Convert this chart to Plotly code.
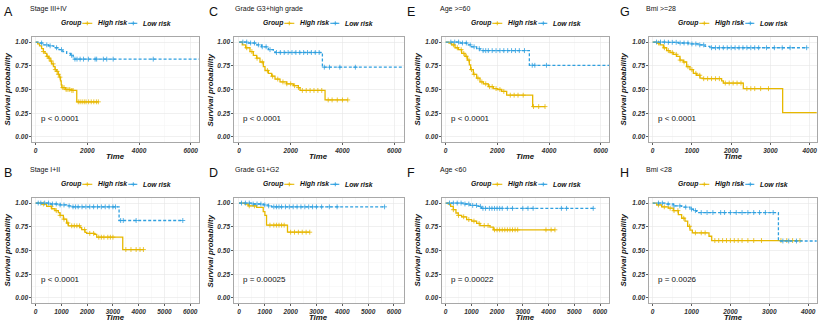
import plotly.graph_objects as go

W, H = 819, 325
HIGH_COLOR = "#E7B800"
LOW_COLOR = "#2E9FDF"
FONT = "Liberation Sans, Arial, sans-serif"

panel_letters = ["A", "B", "C", "D", "E", "F", "G", "H"]
panel_titles = ["Stage III+IV", "Stage I+II", "Grade G3+high grade", "Grade G1+G2",
                "Age >=60", "Age <60", "Bmi >=28", "Bmi <28"]
pvals = ["p < 0.0001", "p < 0.0001", "p < 0.0001", "p = 0.00025",
         "p < 0.0001", "p = 0.00022", "p < 0.0001", "p = 0.0026"]
group_labels = ["High risk", "Low risk"]
legend_title = "Group"
x_title = "Time"
y_title = "Survival probability"
y_ticks = [0, 0.25, 0.5, 0.75, 1.0]
x_ticks_wide = [0, 2000, 4000, 6000]
x_ticks_fine = [0, 1000, 2000, 3000, 4000, 5000, 6000]
x_ticks_short = [0, 1000, 2000, 3000, 4000]

# ---------------- Kaplan-Meier step data (time, survival) ----------------
A_high_t = [0, 80, 150, 230, 300, 360, 430, 500, 560, 620, 690, 750, 810, 870, 920, 960, 990, 1010, 1150, 1400, 1590, 2425]
A_high_s = [1, .98, .96, .93, .90, .88, .85, .83, .80, .77, .74, .71, .69, .66, .63, .59, .55, .52, .50, .49, .37, .37]
A_high_c = [300, 450, 520, 600, 680, 760, 830, 880, 940, 1050, 1100, 1180, 1250, 1320, 1400, 1450, 1650, 1720,
            1800, 1880, 1950, 2050, 2150, 2250, 2350, 2425]
A_low_t = [0, 150, 300, 500, 700, 900, 1050, 1200, 1350, 1450, 6400]
A_low_s = [1, .99, .97, .96, .94, .92, .90, .88, .86, .82, .82]
A_low_c = [230, 430, 560, 810, 1000, 1390, 1520, 1600, 1720, 1850, 2040, 2300, 2360, 2620, 2750, 3000, 4550]

B_high_t = [0, 233, 427, 622, 751, 881, 945, 1075, 1204, 1269, 1722, 1787, 1916, 1981, 2279, 2370, 3380, 4183]
B_high_s = [1, .99, .965, .94, .92, .90, .87, .83, .79, .76, .74, .72, .69, .68, .67, .64, .51, .51]
B_high_c = [300, 600, 800, 950, 1100, 1250, 1400, 1500, 1600, 1700, 1900, 2100, 2250, 2450, 2550, 2650, 2800,
            2900, 3000, 3500, 3700, 3900, 4050, 4183]
B_low_t = [0, 557, 945, 1204, 1400, 3238, 5711]
B_low_s = [1, .99, .98, .97, .96, .816, .816]
B_low_c = [100, 200, 350, 500, 650, 800, 950, 1100, 1300, 1450, 1550, 1650, 1800, 1950, 2100, 2250, 2400, 2550,
           2700, 2850, 3000, 3100, 3300, 3400, 3900, 5711]

C_high_t = [0, 129, 258, 426, 555, 684, 813, 942, 1006, 1135, 1264, 1393, 1587, 1845, 2103, 2296, 2361, 3328, 4205]
C_high_s = [1, .97, .94, .90, .86, .83, .79, .74, .70, .67, .64, .61, .58, .56, .54, .52, .49, .39, .39]
C_high_c = [300, 500, 700, 900, 1100, 1300, 1500, 1700, 1850, 2000, 2150, 2300, 2450, 2600, 2750, 2900, 3050,
            3200, 3450, 3600, 3800, 4000, 4205]
C_low_t = [0, 361, 619, 877, 1135, 1329, 1393, 3225, 6450]
C_low_s = [1, .99, .97, .95, .92, .90, .89, .735, .735]
C_low_c = [150, 300, 450, 600, 750, 900, 1050, 1200, 1450, 1600, 1750, 1900, 2050, 2200, 2350, 2500, 2650, 2800,
           2950, 3100, 3300, 3500, 3900, 4500]

D_high_t = [0, 232, 360, 682, 940, 1004, 1068, 1879, 2741]
D_high_s = [1, .99, .97, .955, .91, .87, .767, .693, .693]
D_high_c = [400, 600, 1200, 1350, 1450, 1550, 1650, 1750, 2000, 2150, 2300, 2450, 2600, 2741]
D_low_t = [0, 489, 940, 1133, 1261, 5637]
D_low_s = [1, .99, .98, .97, .96, .96]
D_low_c = [100, 250, 400, 550, 700, 850, 1000, 1150, 1350, 1450, 1550, 1650, 1800, 1950, 2100, 2250, 2400, 2550,
           2700, 2850, 3000, 3200, 3500, 3800, 5637]

E_high_t = [0, 129, 232, 361, 490, 619, 748, 839, 916, 968, 1071, 1200, 1329, 1458, 1651, 1845, 2000, 2167, 2361, 3367, 3844]
E_high_s = [1, .99, .97, .94, .92, .88, .85, .81, .76, .71, .66, .62, .58, .56, .53, .51, .50, .48, .44, .32, .32]
E_high_c = [300, 450, 600, 700, 800, 900, 1000, 1100, 1250, 1400, 1550, 1700, 1800, 1950, 2100, 2250, 2500,
            2650, 2800, 3000, 3400, 3600, 3844]
E_low_t = [0, 555, 813, 1006, 1200, 1329, 3238, 6400]
E_low_s = [1, .99, .97, .95, .93, .91, .755, .755]
E_low_c = [200, 350, 500, 650, 800, 950, 1100, 1300, 1450, 1550, 1650, 1800, 1950, 2100, 2250, 2400, 2550, 2700,
           2850, 3050, 3350, 3450, 3900]

F_high_t = [0, 104, 194, 298, 401, 492, 622, 816, 1010, 1204, 1334, 1722, 1852, 4248]
F_high_s = [1, .99, .965, .93, .895, .87, .855, .826, .81, .785, .763, .746, .718, .718]
F_high_c = [300, 500, 700, 900, 1100, 1300, 1500, 1650, 1900, 2000, 2100, 2200, 2300, 2400, 2500, 2600, 2700,
            2800, 3900, 4100, 4248]
F_low_t = [0, 686, 945, 1204, 1398, 5737]
F_low_s = [1, .99, .975, .965, .944, .944]
F_low_c = [150, 300, 450, 600, 750, 900, 1050, 1200, 1350, 1450, 1550, 1700, 1800, 1900, 2000, 2100, 2200, 2400,
           2600, 3000, 3200, 3400, 4500, 4700, 5737]

G_high_t = [0, 102, 187, 272, 357, 441, 526, 611, 696, 781, 866, 951, 1036, 1121, 1206, 1290, 1757, 1800, 2309, 3311, 4300]
G_high_s = [1, .99, .97, .94, .91, .89, .87, .85, .81, .79, .74, .71, .67, .65, .62, .614, .59, .568, .509, .256, .256]
G_high_c = [150, 300, 400, 500, 600, 700, 800, 900, 1000, 1100, 1200, 1300, 1400, 1500, 1600, 1700, 1850, 1950,
            2050, 2150, 2250, 2400, 2500, 2600, 2750, 2950]
G_low_t = [0, 399, 654, 908, 1163, 1333, 1460, 3922]
G_low_s = [1, .997, .99, .98, .97, .954, .94, .94]
G_low_c = [100, 200, 300, 400, 500, 600, 700, 800, 900, 1000, 1100, 1200, 1300, 1500, 1600, 1700, 1800, 1900,
           2000, 2100, 2200, 2300, 2400, 2500, 2600, 2700, 2900, 3100, 3300, 3500, 3922]

H_high_t = [0, 103, 232, 403, 532, 661, 746, 832, 901, 961, 1021, 1450, 1519, 3790]
H_high_s = [1, .98, .96, .946, .92, .877, .84, .81, .755, .714, .686, .65, .605, .605]
H_high_c = [150, 300, 450, 550, 650, 800, 950, 1100, 1250, 1350, 1600, 1700, 1800, 1900, 2000, 2100, 2200, 2300,
            2450, 2600, 2800, 3300, 3450, 3600, 3790]
H_low_t = [0, 317, 532, 746, 961, 1047, 1133, 3235, 4300]
H_low_s = [1, .99, .97, .957, .936, .92, .90, .60, .60]
H_low_c = [150, 250, 400, 550, 700, 850, 1000, 1100, 1250, 1400, 1550, 1750, 1850, 2000, 2150, 2300, 2450, 2600,
           2750, 2900, 3100, 3350, 3500, 3700]

curves = {
    "A": (A_high_t, A_high_s, A_high_c, A_low_t, A_low_s, A_low_c),
    "B": (B_high_t, B_high_s, B_high_c, B_low_t, B_low_s, B_low_c),
    "C": (C_high_t, C_high_s, C_high_c, C_low_t, C_low_s, C_low_c),
    "D": (D_high_t, D_high_s, D_high_c, D_low_t, D_low_s, D_low_c),
    "E": (E_high_t, E_high_s, E_high_c, E_low_t, E_low_s, E_low_c),
    "F": (F_high_t, F_high_s, F_high_c, F_low_t, F_low_s, F_low_c),
    "G": (G_high_t, G_high_s, G_high_c, G_low_t, G_low_s, G_low_c),
    "H": (H_high_t, H_high_s, H_high_c, H_low_t, H_low_s, H_low_c),
}

# ---------------- layout geometry (pixels) ----------------
col_x = [(32.3, 199.0), (234.3, 403.5), (442.3, 609.0), (649.3, 816.7)]
row_y = [(37.3, 141.7), (198.3, 302.7)]
letter_x = [2, 207, 405, 618]
title_x = [28, 233, 438, 644]
ytitle_x = [7, 210, 417, 623]
panel_pos = {"A": (0, 0), "B": (0, 1), "C": (1, 0), "D": (1, 1),
             "E": (2, 0), "F": (2, 1), "G": (3, 0), "H": (3, 1)}
x_ranges = {"A": [-130, 6320], "B": [-130, 6340], "C": [-180, 6360], "D": [-180, 6370],
            "E": [-130, 6320], "F": [-130, 6350], "G": [-85, 4178], "H": [-86, 4220]}
x_ticks = {"A": x_ticks_wide, "B": x_ticks_fine, "C": x_ticks_wide, "D": x_ticks_fine,
           "E": x_ticks_wide, "F": x_ticks_fine, "G": x_ticks_short, "H": x_ticks_short}


def px(x):
    return x / W


def py(y):
    return 1 - y / H


def surv_at(ts, ss, t):
    s = ss[0]
    for ti, si in zip(ts, ss):
        if ti <= t:
            s = si
        else:
            break
    return s


fig = go.Figure()
annotations = []
shapes = []
layout_axes = {}

bi = dict(weight="bold", style="italic")

for i, key in enumerate(panel_letters):
    n = i + 1
    xs = "" if n == 1 else str(n)
    col, row = panel_pos[key]
    x0, x1 = col_x[col]
    y0, y1 = row_y[row]
    ht, hs, hc, lt, ls, lc = curves[key]

    for (t, s, c, color, dash, name) in [(ht, hs, hc, HIGH_COLOR, "solid", group_labels[0]),
                                         (lt, ls, lc, LOW_COLOR, "3px,2px", group_labels[1])]:
        fig.add_trace(go.Scatter(x=t, y=s, mode="lines", line=dict(color=color, width=1.3, dash=dash, shape="hv"),
                                 xaxis="x" + xs, yaxis="y" + xs, showlegend=False, name=name, hoverinfo="skip"))
        fig.add_trace(go.Scatter(x=c, y=[surv_at(t, s, ci) for ci in c], mode="markers",
                                 marker=dict(symbol="cross-thin", size=3.5, line=dict(color=color, width=0.8)),
                                 xaxis="x" + xs, yaxis="y" + xs, showlegend=False, hoverinfo="skip"))

    step = x_ticks[key][1] - x_ticks[key][0]
    layout_axes["xaxis" + xs] = dict(
        domain=[px(x0), px(x1)], range=x_ranges[key], anchor="y" + xs,
        tickmode="array", tickvals=x_ticks[key], ticks="outside", ticklen=2, tickwidth=0.8, tickcolor="#333333",
        showline=True, mirror=True, linecolor="#A8A8A8", linewidth=1,
        showgrid=True, gridcolor="#E6E6E6", gridwidth=0.6, zeroline=False,
        minor=dict(tickmode="linear", tick0=step / 2, dtick=step, showgrid=True, gridcolor="#F3F3F3", gridwidth=0.5),
        tickfont=dict(family=FONT, size=6.5, color="#333333", **bi), fixedrange=True)
    layout_axes["yaxis" + xs] = dict(
        domain=[py(y1), py(y0)], range=[-0.05, 1.05], anchor="x" + xs,
        tickmode="array", tickvals=y_ticks, ticktext=["%.2f" % v for v in y_ticks],
        ticks="outside", ticklen=2, tickwidth=0.8, tickcolor="#333333",
        showline=True, mirror=True, linecolor="#A8A8A8", linewidth=1,
        showgrid=True, gridcolor="#E6E6E6", gridwidth=0.6, zeroline=False,
        minor=dict(tickmode="linear", tick0=0.125, dtick=0.25, showgrid=True, gridcolor="#F3F3F3", gridwidth=0.5),
        tickfont=dict(family=FONT, size=6.5, color="#333333", **bi), fixedrange=True)

    off = 0 if row == 0 else 161
    # panel letter
    annotations.append(dict(text=key, x=px(letter_x[col]), y=py(12 + off), xref="paper", yref="paper",
                            xanchor="left", yanchor="middle", showarrow=False,
                            font=dict(family=FONT, size=12.5, color="#111111")))
    # subtitle
    annotations.append(dict(text=panel_titles[i], x=px(title_x[col]), y=py(8.5 + off), xref="paper", yref="paper",
                            xanchor="left", yanchor="middle", showarrow=False,
                            font=dict(family=FONT, size=7, color="#111111")))
    # legend
    ly = y0 - 14
    annotations.append(dict(text=legend_title, x=px(x0 + 27), y=py(ly), xref="paper", yref="paper",
                            xanchor="left", yanchor="middle", showarrow=False,
                            font=dict(family=FONT, size=6.8, color="#111111", **bi)))
    for (a, b, tx, color, dash, lab) in [(50, 60, 64, HIGH_COLOR, "solid", group_labels[0]),
                                         (96, 106, 109, LOW_COLOR, "dash", group_labels[1])]:
        shapes.append(dict(type="line", xref="paper", yref="paper", x0=px(x0 + a), x1=px(x0 + b),
                           y0=py(ly), y1=py(ly), line=dict(color=color, width=1.1, dash=dash)))
        shapes.append(dict(type="line", xref="paper", yref="paper", x0=px(x0 + (a + b) / 2 - 2),
                           x1=px(x0 + (a + b) / 2 + 2), y0=py(ly), y1=py(ly), line=dict(color=color, width=0.9)))
        shapes.append(dict(type="line", xref="paper", yref="paper", x0=px(x0 + (a + b) / 2),
                           x1=px(x0 + (a + b) / 2), y0=py(ly - 2), y1=py(ly + 2), line=dict(color=color, width=0.9)))
        annotations.append(dict(text=lab, x=px(x0 + tx), y=py(ly), xref="paper", yref="paper",
                                xanchor="left", yanchor="middle", showarrow=False,
                                font=dict(family=FONT, size=6.8, color="#111111", **bi)))
    # y title
    annotations.append(dict(text=y_title, x=px(ytitle_x[col]), y=py((y0 + y1) / 2), xref="paper", yref="paper",
                            xanchor="center", yanchor="middle", textangle=-90, showarrow=False,
                            font=dict(family=FONT, size=7.8, color="#111111", **bi)))
    # x title
    annotations.append(dict(text=x_title, x=px((x0 + x1) / 2), y=py(y1 + 14.5), xref="paper", yref="paper",
                            xanchor="center", yanchor="middle", showarrow=False,
                            font=dict(family=FONT, size=7.8, color="#111111", **bi)))
    # p value
    annotations.append(dict(text=pvals[i], x=px(x0 + 7), y=py(y1 - 23.5), xref="paper", yref="paper",
                            xanchor="left", yanchor="middle", showarrow=False,
                            font=dict(family=FONT, size=8, color="#111111")))

fig.update_layout(width=W, height=H, autosize=False, margin=dict(l=0, r=0, t=0, b=0),
                  paper_bgcolor="white", plot_bgcolor="white", showlegend=False,
                  annotations=annotations, shapes=shapes, **layout_axes)

fig.write_html("out.html", config={"displayModeBar": False, "staticPlot": True},
               post_script="document.body.style.margin='0px';document.body.style.padding='0px';")
